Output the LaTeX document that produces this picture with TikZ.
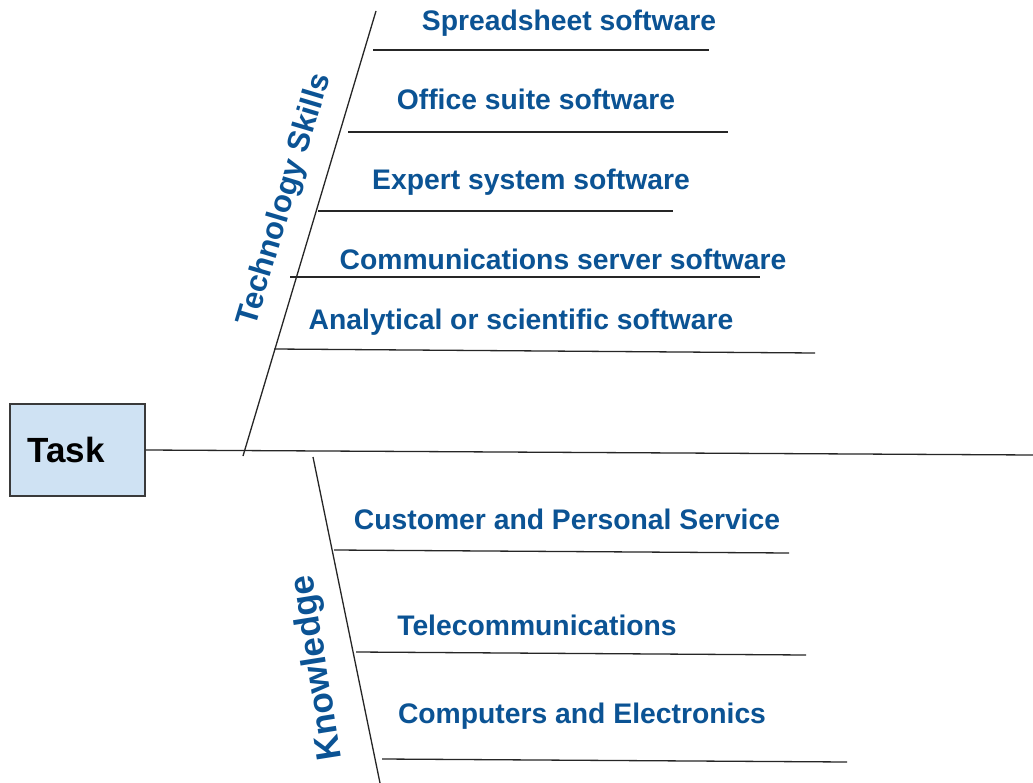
\documentclass[tikz,border=0pt]{standalone}
\usepackage{fontspec}
\setmainfont{Liberation Sans}
\definecolor{lblue}{HTML}{0B5394}
\definecolor{boxfill}{HTML}{CFE2F3}
\definecolor{boxline}{HTML}{3A3A3A}
\begin{document}
\begin{tikzpicture}[x=1pt,y=-1pt,
  bone/.style={draw=black!85,line width=1.3pt},
  item/.style={text=lblue,font=\fontsize{28.3}{31}\selectfont\bfseries,inner sep=0pt},
  cat/.style={text=lblue,font=\fontsize{31}{34}\selectfont\bfseries,inner sep=0pt},
  taskbox/.style={draw=boxline,fill=boxfill,line width=1.3pt,text width=100pt,align=left,inner xsep=17.5pt,minimum height=92pt,font=\fontsize{35}{38}\selectfont\bfseries}]
\useasboundingbox (0,0) rectangle (1033,783);
\fill[white] (0,0) rectangle (1033,783);
% task box and main spine
\node[taskbox] (task) at (77.5,450) {Task};
\coordinate (spineend) at (1033,455);
\draw[bone] (task.east) -- (spineend);
% technology skills bone
\coordinate (tb) at (243,456);
\coordinate (tt) at (376,11);
\draw[bone] (tb) -- (tt);
\node[cat,rotate=73.4] (tech) at (285,200) {Technology Skills};
% knowledge bone
\coordinate (kt) at (313,457);
\coordinate (kb) at (380,783);
\draw[bone] (kt) -- (kb);
\node[cat,rotate=99,font=\fontsize{35}{38}\selectfont\bfseries] (know) at (318,668) {Knowledge};
% technology items
\coordinate (a1) at (373,50);  \coordinate (b1) at (709,50);
\coordinate (a2) at (348,132); \coordinate (b2) at (728,132);
\coordinate (a3) at (318,211); \coordinate (b3) at (673,211);
\coordinate (a4) at (290,277); \coordinate (b4) at (760,277);
\coordinate (a5) at (274,349); \coordinate (b5) at (815,353);
\foreach \i in {1,...,5} {\draw[bone] (a\i) -- (b\i);}
\node[item] (t1) at (569,23) {Spreadsheet software};
\node[item] (t2) at (536,99) {Office suite software};
\node[item] (t3) at (531,182) {Expert system software};
\node[item] (t4) at (563,259) {Communications server software};
\node[item] (t5) at (521,322) {Analytical or scientific software};
% knowledge items
\coordinate (c1) at (334,550); \coordinate (d1) at (789,553);
\coordinate (c2) at (356,652); \coordinate (d2) at (806,655);
\coordinate (c3) at (382,759); \coordinate (d3) at (847,762);
\foreach \i in {1,2,3} {\draw[bone] (c\i) -- (d\i);}
\node[item] (k1) at (567,519) {Customer and Personal Service};
\node[item] (k2) at (537,625) {Telecommunications};
\node[item] (k3) at (582,716) {Computers and Electronics};
\end{tikzpicture}
\end{document}
